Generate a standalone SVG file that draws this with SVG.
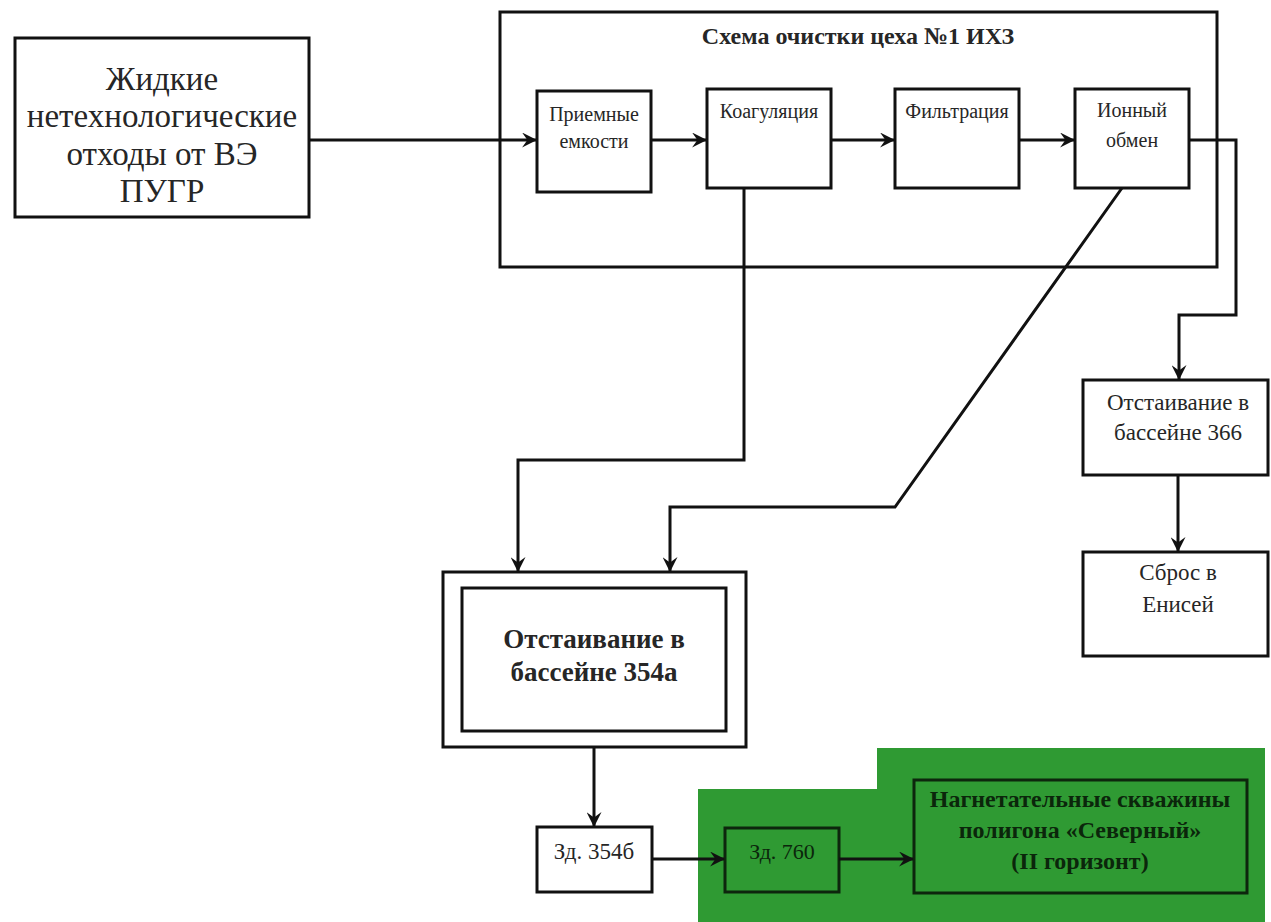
<svg xmlns="http://www.w3.org/2000/svg" width="1271" height="922" viewBox="0 0 1271 922">
<defs>
<style>
.box{fill:#fff;stroke:#111;stroke-width:3}
.gbox{fill:#2f9a33;stroke:#0d260d;stroke-width:3}
.t{font-family:'Liberation Serif','DejaVu Serif','Noto Serif',serif;fill:#262626;text-anchor:middle}
.b{font-weight:bold}
.g{fill:#0b260b}
.c{fill:none;stroke:#111;stroke-width:3}
</style>
<marker id="ah" viewBox="0 0 14 14" refX="13" refY="7" markerWidth="15" markerHeight="15" markerUnits="userSpaceOnUse" orient="auto">
<path d="M0,0 L14,7 L0,14 L5,7 z" fill="#111"/>
</marker>
</defs>
<rect width="1271" height="922" fill="#fff"/>

<g id="green-area">
<polygon points="698,789 877,789 877,748 1265,748 1265,922 698,922" fill="#2f9a33"/>
</g>

<g id="source">
<rect class="box" x="15" y="38" width="294" height="179"/>
<text class="t" font-size="33" x="162" y="90">Жидкие</text>
<text class="t" font-size="33" x="162" y="127">нетехнологические</text>
<text class="t" font-size="33" x="162" y="165">отходы от ВЭ</text>
<text class="t" font-size="33" x="162" y="202">ПУГР</text>
</g>

<g id="container">
<rect class="box" x="500" y="12" width="717" height="255" style="fill:none"/>
<text class="t b" font-size="24" x="858" y="44">Схема очистки цеха №1 ИХЗ</text>
</g>

<g id="priemnye">
<rect class="box" x="537" y="91" width="114" height="101"/>
<text class="t" font-size="20" x="594" y="121">Приемные</text>
<text class="t" font-size="20" x="594" y="148">емкости</text>
</g>

<g id="koagulyatsiya">
<rect class="box" x="707" y="89" width="124" height="99"/>
<text class="t" font-size="20" x="769" y="118">Коагуляция</text>
</g>

<g id="filtratsiya">
<rect class="box" x="895" y="89" width="124" height="99"/>
<text class="t" font-size="20" x="957" y="118">Фильтрация</text>
</g>

<g id="ionny">
<rect class="box" x="1075" y="89" width="114" height="99"/>
<text class="t" font-size="20" x="1132" y="117">Ионный</text>
<text class="t" font-size="20" x="1132" y="147">обмен</text>
</g>

<g id="bass366">
<rect class="box" x="1083" y="380" width="185" height="95"/>
<text class="t" font-size="23" x="1178" y="410">Отстаивание в</text>
<text class="t" font-size="23" x="1178" y="440">бассейне 366</text>
</g>

<g id="enisei">
<rect class="box" x="1083" y="552" width="185" height="104"/>
<text class="t" font-size="23" x="1178" y="580">Сброс в</text>
<text class="t" font-size="23" x="1178" y="612">Енисей</text>
</g>

<g id="bass354a">
<rect class="box" x="443" y="572" width="303" height="175"/>
<rect class="box" x="462" y="588" width="264" height="143"/>
<text class="t b" font-size="27" x="594" y="648">Отстаивание в</text>
<text class="t b" font-size="27" x="594" y="681">бассейне 354а</text>
</g>

<g id="zd354b">
<rect class="box" x="537" y="827" width="115" height="65"/>
<text class="t" font-size="23" x="594" y="859">Зд. 354б</text>
</g>

<g id="zd760">
<rect class="gbox" x="725" y="828" width="114" height="64"/>
<text class="t g" font-size="22" x="782" y="859">Зд. 760</text>
</g>

<g id="wells">
<rect class="gbox" x="914" y="780" width="333" height="113"/>
<text class="t b g" font-size="24" x="1080" y="807">Нагнетательные скважины</text>
<text class="t b g" font-size="24" x="1080" y="838">полигона «Северный»</text>
<text class="t b g" font-size="24" x="1080" y="869">(II горизонт)</text>
</g>

<g id="connectors">
<line class="c" x1="309" y1="140" x2="536" y2="140" marker-end="url(#ah)"/>
<line class="c" x1="651" y1="140" x2="706" y2="140" marker-end="url(#ah)"/>
<line class="c" x1="831" y1="140" x2="894" y2="140" marker-end="url(#ah)"/>
<line class="c" x1="1019" y1="140" x2="1074" y2="140" marker-end="url(#ah)"/>
<polyline class="c" points="1189,140 1236,140 1236,315 1179,315 1179,379" marker-end="url(#ah)"/>
<line class="c" x1="1178" y1="475" x2="1178" y2="551" marker-end="url(#ah)"/>
<polyline class="c" points="744,188 744,460 518,460 518,571" marker-end="url(#ah)"/>
<polyline class="c" points="1122,188 895,507 670,507 670,571" marker-end="url(#ah)"/>
<line class="c" x1="594" y1="747" x2="594" y2="826" marker-end="url(#ah)"/>
<line class="c" x1="652" y1="859" x2="724" y2="859" marker-end="url(#ah)"/>
<line class="c" x1="839" y1="859" x2="913" y2="859" marker-end="url(#ah)"/>
</g>
</svg>
